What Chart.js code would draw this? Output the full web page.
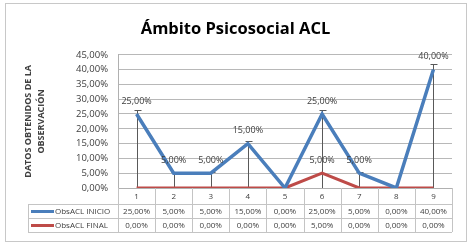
<!DOCTYPE html>
<html lang="es">
<head>
<meta charset="utf-8" />
<script src="https://cdn.jsdelivr.net/npm/chart.js@4.4.0/dist/chart.umd.min.js"></script>
<style>body{margin:0;background:#fff}</style>
<title>Ámbito Psicosocial ACL</title>
</head>
<body>
<canvas id="grafico" width="471" height="246"></canvas>
<script>
const categorias = ["1", "2", "3", "4", "5", "6", "7", "8", "9"];
const obsInicio = [25, 5, 5, 15, 0, 25, 5, 0, 40];
const obsFinal = [0, 0, 0, 0, 0, 5, 0, 0, 0];
const nombres = ["ObsACL INICIO", "ObsACL FINAL"];
const colores = ["#4a7ebb", "#be4b48"];
const barraError = 5; // barras de error: 5% del valor

const fuente = "'Open Sans', sans-serif";
const gris = "#404040";

function fmt(n) {
    return n.toFixed(2).replace(".", ",") + "%";
}

const tabla = {
    id: "tabla",
    beforeDraw(chart) {
        const ctx = chart.ctx;
        ctx.save();
        ctx.fillStyle = "#fff";
        ctx.fillRect(0, 0, chart.width, chart.height);
        ctx.strokeStyle = "#c8c8c8";
        ctx.lineWidth = 1;
        ctx.strokeRect(5.5, 3.5, 461, 238);
        ctx.restore();
    },
    beforeDatasetsDraw(chart) {
        // lineas verticales con tope (barras de error)
        const {ctx, scales: {x, y}} = chart;
        ctx.save();
        ctx.strokeStyle = "#595959";
        ctx.lineWidth = 1;
        obsInicio.forEach((v, i) => {
            if (!v) return;
            const px = Math.round(x.getPixelForValue(i)) + 0.5;
            const tope = Math.round(y.getPixelForValue(v * (1 + barraError / 100))) + 0.5;
            ctx.beginPath();
            ctx.moveTo(px, y.getPixelForValue(0));
            ctx.lineTo(px, tope);
            ctx.moveTo(px - 3, tope);
            ctx.lineTo(px + 4, tope);
            ctx.stroke();
        });
        ctx.restore();
    },
    afterDraw(chart) {
        const {ctx, chartArea, scales: {x, y}} = chart;
        ctx.save();
        // etiquetas de datos
        ctx.font = "9px " + fuente;
        ctx.fillStyle = gris;
        ctx.textAlign = "center";
        ctx.textBaseline = "middle";
        [obsInicio, obsFinal].forEach((serie) => {
            serie.forEach((v, i) => {
                if (!v) return;
                ctx.fillText(fmt(v), x.getPixelForValue(i), y.getPixelForValue(v) - 13);
            });
        });

        // tabla de datos
        const paso = (chartArea.right - chartArea.left) / categorias.length;
        const izq = 28;
        const y0 = chartArea.bottom;
        const y1 = y0 + 16;
        const alto = 14;
        const y3 = y1 + alto * 2;
        ctx.strokeStyle = "#c4c4c4";
        ctx.lineWidth = 1;
        ctx.beginPath();
        for (let i = 0; i <= categorias.length; i++) {
            const px = Math.round(chartArea.left + i * paso) + 0.5;
            ctx.moveTo(px, y0);
            ctx.lineTo(px, y3);
        }
        ctx.moveTo(izq + 0.5, y1);
        ctx.lineTo(izq + 0.5, y3);
        for (let r = 0; r <= 2; r++) {
            const py = Math.round(y1 + r * alto) + 0.5;
            ctx.moveTo(izq, py);
            ctx.lineTo(chartArea.right, py);
        }
        ctx.stroke();

        ctx.font = "8px " + fuente;
        ctx.fillStyle = gris;
        categorias.forEach((c, i) => {
            ctx.fillText(c, x.getPixelForValue(i), y0 + 8.5);
        });
        [obsInicio, obsFinal].forEach((serie, r) => {
            const cy = y1 + r * alto + alto / 2 + 0.5;
            ctx.strokeStyle = colores[r];
            ctx.lineWidth = 3;
            ctx.beginPath();
            ctx.moveTo(izq + 3, cy);
            ctx.lineTo(izq + 26, cy);
            ctx.stroke();
            ctx.textAlign = "left";
            ctx.fillText(nombres[r], izq + 27, cy);
            ctx.textAlign = "center";
            serie.forEach((v, i) => {
                ctx.fillText(fmt(v), chartArea.left + (i + 0.5) * paso, cy);
            });
        });
        ctx.restore();
    }
};

new Chart(document.getElementById("grafico").getContext("2d"), {
    type: "line",
    data: {
        labels: categorias,
        datasets: [
            {label: nombres[0], data: obsInicio, borderColor: colores[0], borderWidth: 3.5, pointRadius: 0, tension: 0},
            {label: nombres[1], data: obsFinal, borderColor: colores[1], borderWidth: 3, pointRadius: 0, tension: 0}
        ]
    },
    options: {
        responsive: false,
        animation: false,
        layout: {padding: {left: 19, right: 19, top: 0, bottom: 42}},
        scales: {
            x: {
                offset: true,
                grid: {display: false},
                border: {display: true, color: "#b0b0b0"},
                ticks: {display: false},
                afterFit: (s) => { s.height = 16; }
            },
            y: {
                min: 0,
                max: 45,
                ticks: {
                    stepSize: 5,
                    font: {family: fuente, size: 9.5},
                    color: gris,
                    padding: 10,
                    callback: (n) => fmt(n)
                },
                grid: {color: "#b8b8b8", drawTicks: false},
                border: {color: "#b0b0b0"},
                title: {
                    display: true,
                    text: ["DATOS OBTENIDOS DE LA", "OBSERVACIÓN"],
                    font: {family: fuente, size: 9, weight: "bold", lineHeight: 1.55},
                    color: gris,
                    padding: {top: 2, bottom: 0}
                },
                afterFit: (s) => { s.width = 99; }
            }
        },
        plugins: {
            legend: {display: false},
            tooltip: {enabled: false},
            title: {
                display: true,
                text: "Ámbito Psicosocial ACL",
                font: {family: fuente, size: 16.5, weight: "bold"},
                color: "#000",
                padding: {top: 19, bottom: 16}
            }
        }
    },
    plugins: [tabla]
});
</script>
</body>
</html>
